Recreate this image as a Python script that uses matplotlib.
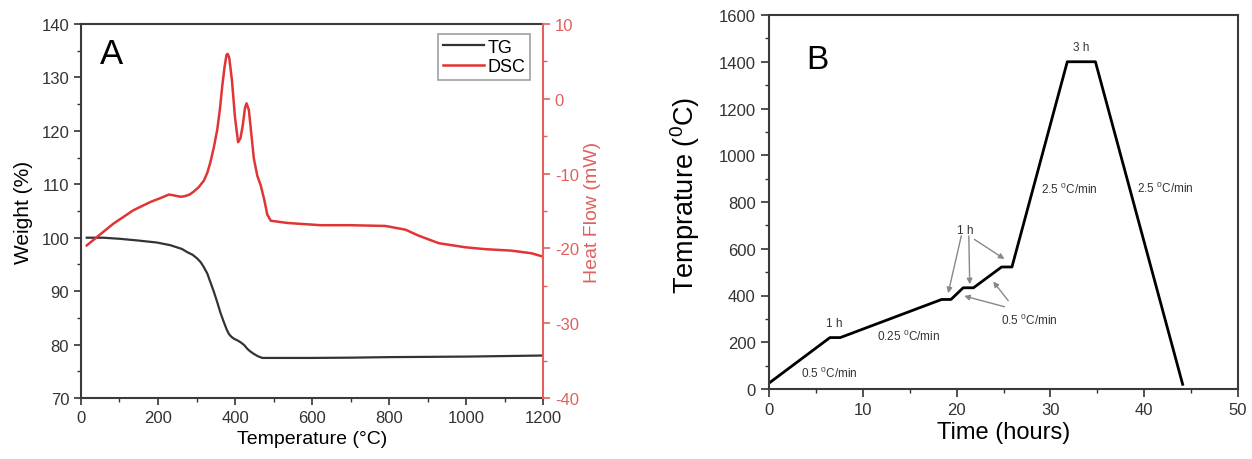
import matplotlib
matplotlib.use("Agg")
import matplotlib.pyplot as plt
from matplotlib.ticker import MultipleLocator

plt.rcParams['font.family'] = ['Liberation Sans', 'DejaVu Sans']
plt.rcParams['mathtext.fontset'] = 'custom'
plt.rcParams['mathtext.rm'] = 'Liberation Sans'
plt.rcParams['mathtext.it'] = 'Liberation Sans'
plt.rcParams['axes.unicode_minus'] = False

# ---------------- Panel A data ----------------
tg_temp = [15, 58, 100, 145, 197, 232, 262, 276, 290, 302, 311, 319, 328, 336, 345, 354,
           362, 371, 378, 384, 390, 397, 406, 415, 424, 432, 440, 449, 460, 471, 500,
           600, 700, 800, 900, 1000, 1100, 1200]
tg_weight = [100.0, 100.0, 99.8, 99.5, 99.1, 98.6, 97.9, 97.3, 96.8, 96.1, 95.4, 94.5, 93.3,
             91.7, 89.9, 87.9, 86.0, 84.2, 82.9, 82.0, 81.5, 81.1, 80.8, 80.4, 79.9, 79.2,
             78.7, 78.25, 77.8, 77.5, 77.5, 77.5, 77.55, 77.65, 77.7, 77.75, 77.85, 77.95]

dsc_temp = [15, 41, 84, 136, 180, 210, 228, 240, 249, 260, 271, 282, 293, 306, 319, 328,
            336, 345, 354, 361, 367, 373, 378, 381, 385, 392, 400, 408, 414, 420, 426,
            430, 436, 442, 449, 458, 467, 476, 484, 493, 536, 623, 700, 791, 843, 877,
            929, 998, 1050, 1118, 1170, 1200]
dsc_flow = [-19.6, -18.5, -16.7, -14.9, -13.8, -13.2, -12.8, -12.9, -13.0, -13.1, -13.0,
            -12.8, -12.4, -11.8, -10.95, -9.9, -8.5, -6.5, -4.1, -1.3, 1.75, 4.3, 5.9,
            6.0, 5.5, 2.5, -2.5, -5.8, -5.3, -3.6, -1.2, -0.6, -1.5, -4.5, -8.0, -10.3,
            -11.6, -13.5, -15.5, -16.3, -16.6, -16.9, -16.9, -17.0, -17.5, -18.3, -19.3,
            -19.85, -20.1, -20.3, -20.65, -21.1]

# ---------------- Panel B data ----------------
time_h = [0, 6.5, 7.6, 18.4, 19.4, 20.7, 21.8, 24.8, 25.9, 31.8, 34.8, 44.1]
temp_c = [25, 220, 220, 383, 383, 433, 433, 522, 522, 1400, 1400, 20]

SPINE = '#3a3a3a'
RED = '#e06060'

fig = plt.figure(figsize=(12.52, 4.6), dpi=100)
W, H = 1252, 460

# ---------- Panel A ----------
axA = fig.add_axes([81 / W, 1 - 399 / H, (543 - 81) / W, (399 - 25) / H])
lTG, = axA.plot(tg_temp, tg_weight, color='#333333', lw=1.6, label='TG')
axA.set_xlim(0, 1200)
axA.set_ylim(70, 140)
axA.xaxis.set_major_locator(MultipleLocator(200))
axA.xaxis.set_minor_locator(MultipleLocator(100))
axA.yaxis.set_major_locator(MultipleLocator(10))
axA.yaxis.set_minor_locator(MultipleLocator(5))
axA.set_xlabel('Temperature (°C)', fontsize=14, labelpad=4)
axA.set_ylabel('Weight (%)', fontsize=15, labelpad=6)
axA.tick_params(which='both', direction='out', labelsize=12, colors='#333333')
axA.tick_params(which='major', length=5, width=1.2)
axA.tick_params(which='minor', length=3, width=1.0)
for s in axA.spines.values():
    s.set_color(SPINE)
    s.set_linewidth(1.5)
axA.spines['right'].set_visible(False)
axA.text(0.04, 0.92, 'A', transform=axA.transAxes, fontsize=25, va='center', ha='left')

axA2 = axA.twinx()
lDSC, = axA2.plot(dsc_temp, dsc_flow, color='#e03535', lw=1.8, label='DSC')
axA2.set_ylim(-40, 10)
axA2.yaxis.set_major_locator(MultipleLocator(10))
axA2.yaxis.set_minor_locator(MultipleLocator(5))
axA2.set_ylabel('Heat Flow (mW)', fontsize=14, color=RED, labelpad=4)
axA2.tick_params(axis='y', which='both', direction='out', labelsize=12, colors=RED)
axA2.tick_params(axis='y', which='major', length=5, width=1.2)
axA2.tick_params(axis='y', which='minor', length=3, width=1.0)
for k, s in axA2.spines.items():
    s.set_visible(False)
axA2.spines['right'].set_visible(True)
axA2.spines['right'].set_color(RED)
axA2.spines['right'].set_linewidth(1.5)

leg = axA2.legend(handles=[lTG, lDSC], loc='upper right', fontsize=13,
                  frameon=True, fancybox=False, edgecolor='#888888',
                  handlelength=2.3, handletextpad=0.2, borderpad=0.25,
                  labelspacing=0.15, borderaxespad=0,
                  bbox_to_anchor=(0.972, 0.973))
leg.get_frame().set_linewidth(1.2)

# ---------- Panel B ----------
axB = fig.add_axes([769 / W, 1 - 390 / H, (1238 - 769) / W, (390 - 16) / H])
axB.plot(time_h, temp_c, color='black', lw=2.0)
axB.set_xlim(0, 50)
axB.set_ylim(0, 1600)
axB.xaxis.set_major_locator(MultipleLocator(10))
axB.xaxis.set_minor_locator(MultipleLocator(5))
axB.yaxis.set_major_locator(MultipleLocator(200))
axB.yaxis.set_minor_locator(MultipleLocator(100))
axB.set_xlabel('Time (hours)', fontsize=17, labelpad=3)
axB.set_ylabel('Temprature ($^0$C)', fontsize=19.5, labelpad=8)
axB.yaxis.set_label_coords(-0.142, 0.52)
axB.tick_params(which='both', direction='out', labelsize=12, colors='#333333')
axB.tick_params(which='major', length=6, width=1.2)
axB.tick_params(which='minor', length=3, width=1.0)
for s in axB.spines.values():
    s.set_color(SPINE)
    s.set_linewidth(1.5)
axB.text(0.08, 0.88, 'B', transform=axB.transAxes, fontsize=24, va='center', ha='left')

afs = 8.5
acol = '#333333'
axB.text(33.3, 1465, '3 h', fontsize=afs, ha='center', va='center', color=acol)
axB.text(7.0, 282, '1 h', fontsize=afs, ha='center', va='center', color=acol)
axB.text(6.4, 70, '0.5 $^0$C/min', fontsize=afs, ha='center', va='center', color=acol)
axB.text(14.9, 230, '0.25 $^0$C/min', fontsize=afs, ha='center', va='center', color=acol)
axB.text(32.0, 858, '2.5 $^0$C/min', fontsize=afs, ha='center', va='center', color=acol)
axB.text(42.3, 863, '2.5 $^0$C/min', fontsize=afs, ha='center', va='center', color=acol)
axB.text(20.9, 681, '1 h', fontsize=afs, ha='center', va='center', color=acol)
axB.text(27.8, 296, '0.5 $^0$C/min', fontsize=afs, ha='center', va='center', color=acol)

aprops = dict(arrowstyle='-|>', color='#888888', lw=1.0, mutation_scale=8,
              shrinkA=0, shrinkB=0)
for (x0, y0), (x1, y1) in [((20.5, 655), (19.1, 410)),
                           ((21.3, 655), (21.4, 448)),
                           ((21.9, 640), (25.1, 556)),
                           ((25.5, 378), (23.9, 460)),
                           ((25.1, 352), (20.8, 398))]:
    axB.annotate('', xy=(x1, y1), xytext=(x0, y0), arrowprops=aprops)

fig.savefig('out.png', dpi=100)
